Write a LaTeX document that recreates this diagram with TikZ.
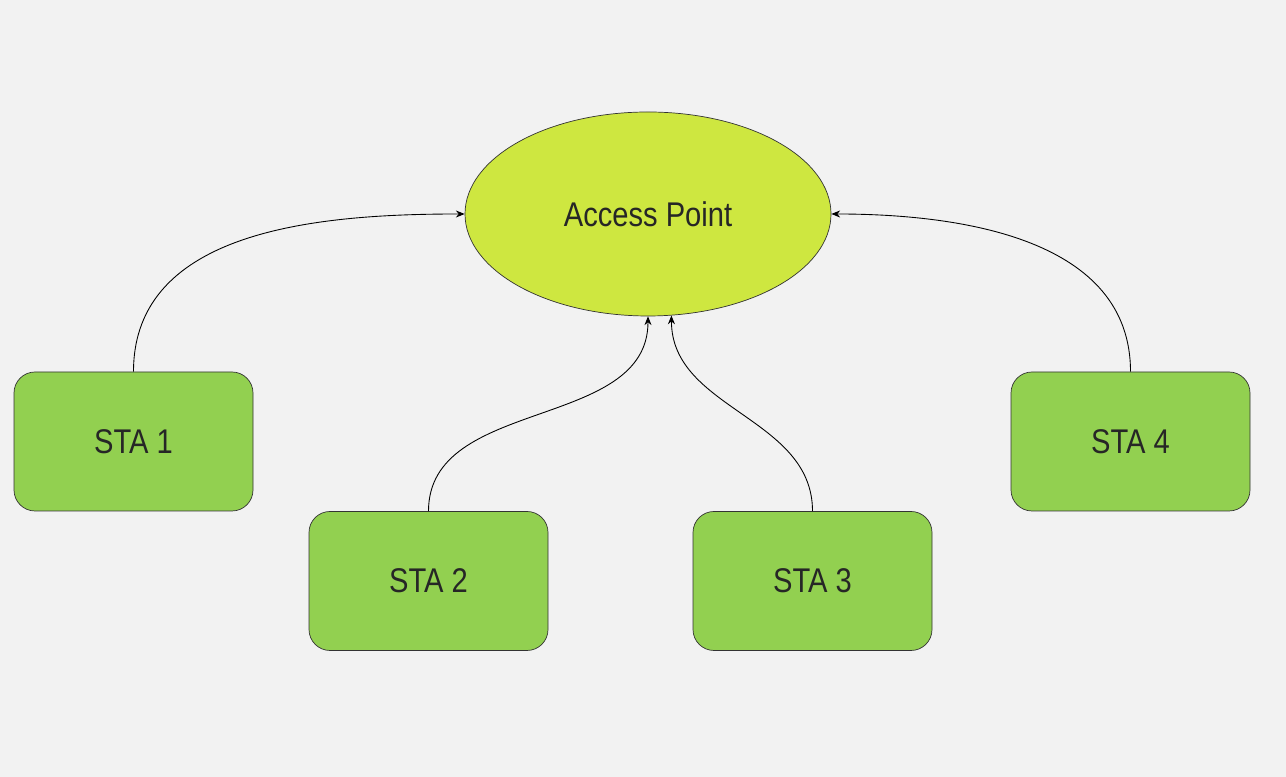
\documentclass[tikz,border=0pt]{standalone}
\usepackage{fontspec}
\setmainfont{Liberation Sans}[FakeStretch=0.85]
\usetikzlibrary{shapes.geometric,arrows.meta}
\definecolor{bgray}{HTML}{F2F2F2}
\definecolor{apgreen}{HTML}{CEE740}
\definecolor{stagreen}{HTML}{92D050}
\tikzset{
    stabox/.style={draw=black!80, fill=stagreen, rounded corners=0.42cm,
        minimum width=4.78cm, minimum height=2.78cm, inner sep=0pt,
        font=\fontsize{19.5}{23}\selectfont, text=black!85},
    link/.style={draw=black, line width=0.5pt, -{Stealth[length=5pt,width=4pt]}}
}
\begin{document}
\begin{tikzpicture}
            \fill[bgray] (0, 0) rectangle (25.72, 15.54);
            \node[ellipse, draw=black!80, fill=apgreen, minimum width=7.32cm,
                minimum height=4.08cm, inner sep=0pt,
                font=\fontsize{19.5}{23}\selectfont, text=black!85] (ap) at (12.96, 11.26) {Access Point};
            \node[stabox] (sta1) at (2.67, 6.71) {STA 1};
            \node[stabox] (sta2) at (8.57, 3.92) {STA 2};
            \node[stabox] (sta3) at (16.25, 3.92) {STA 3};
            \node[stabox] (sta4) at (22.61, 6.71) {STA 4};
            \draw[link] (sta1.north) to[out=90, in=180] (ap.west);
            \draw[link] (sta2.north) to[out=90, in=-90] (ap.south);
            \draw[link] (sta3.north) to[out=90, in=-90] (ap.-77);
            \draw[link] (sta4.north) to[out=90, in=0] (ap.east);
        \end{tikzpicture}
\end{document}
